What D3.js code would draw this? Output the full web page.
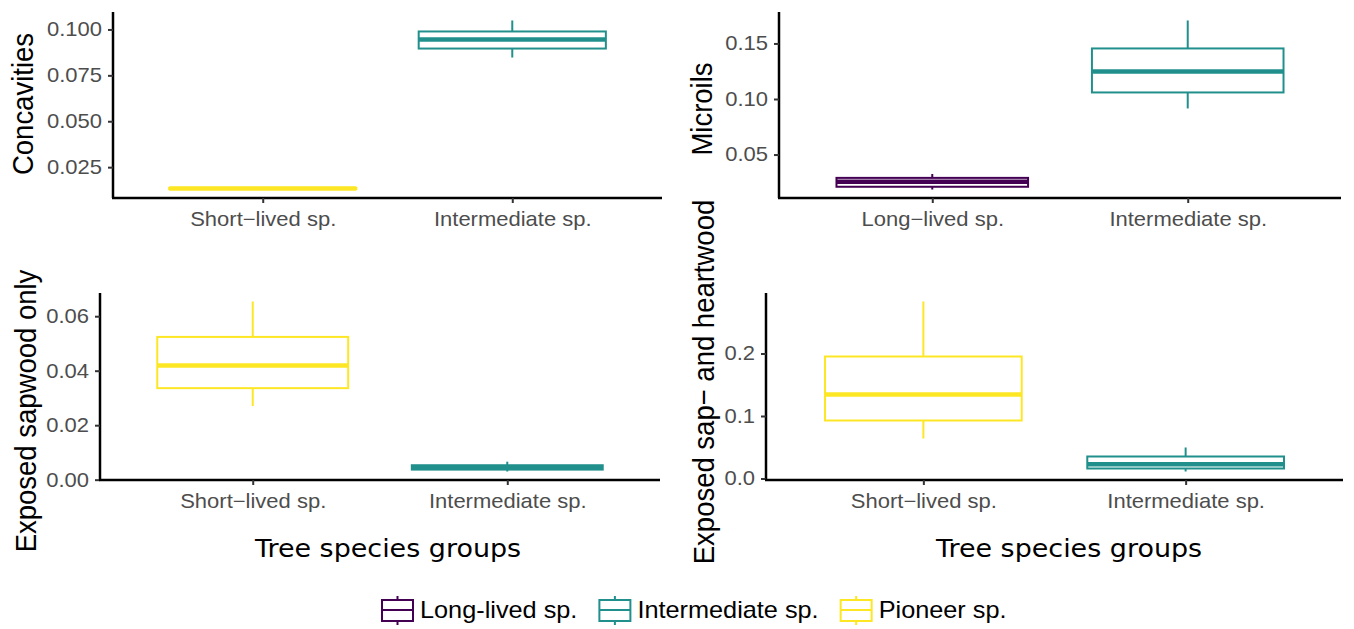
<!DOCTYPE html>
<html>
<head>
<meta charset="utf-8">
<script src="https://cdn.jsdelivr.net/npm/d3@7"></script>
<style>
  body { margin: 0; background: #fff; }
  svg { display: block; }
  .tick text { font-family: "Liberation Sans", Arial, sans-serif; font-size: 20px; fill: #4d4d4d; }
  .tick line { stroke: #333; stroke-width: 2; }
  .domain { stroke: #000; stroke-width: 2.5; }
  .y-title { font-family: "Liberation Sans", Arial, sans-serif; font-size: 27.5px; fill: #000; }
  .x-title { font-family: "DejaVu Sans", sans-serif; font-size: 24.5px; fill: #000; }
  .legend text { font-family: "Liberation Sans", Arial, sans-serif; font-size: 23px; fill: #000; }
</style>
</head>
<body>
<div id="chart"></div>
<script>
// Groups and colours (viridis)
const groupNames = ["Long-lived sp.", "Intermediate sp.", "Pioneer sp."];
const groupColors = ["#440154", "#21908C", "#FDE725"];

// Panel y titles
const panelTitles = ["Concavities", "Microils", "Exposed sapwood only", "Exposed sap\u2212 and heartwood"];
const xTitle = "Tree species groups";

// Categories on each x axis
const concCats = ["Short\u2212lived sp.", "Intermediate sp."];
const micCats = ["Long\u2212lived sp.", "Intermediate sp."];
const sapCats = ["Short\u2212lived sp.", "Intermediate sp."];
const heartCats = ["Short\u2212lived sp.", "Intermediate sp."];

// Colour group of each box
const concGroups = ["Pioneer sp.", "Intermediate sp."];
const micGroups = ["Long-lived sp.", "Intermediate sp."];
const sapGroups = ["Pioneer sp.", "Intermediate sp."];
const heartGroups = ["Pioneer sp.", "Intermediate sp."];

// Box statistics: [lower whisker, Q1, median, Q3, upper whisker]
const concStats = [[0.0128, 0.0131, 0.0134, 0.0137, 0.0140], [0.0847, 0.0896, 0.0945, 0.0989, 0.1049]];
const micStats = [[0.0185, 0.0210, 0.0255, 0.0290, 0.0325], [0.0915, 0.1059, 0.1248, 0.1455, 0.1707]];
const sapStats = [[0.0270, 0.0336, 0.0419, 0.0524, 0.0654], [0.0030, 0.0037, 0.0045, 0.0053, 0.0066]];
const heartStats = [[0.0640, 0.0928, 0.1344, 0.1952, 0.2832], [0.0112, 0.0160, 0.0230, 0.0352, 0.0496]];

// Tick values
const concTicks = [0.025, 0.05, 0.075, 0.1];
const micTicks = [0.05, 0.10, 0.15];
const sapTicks = [0, 0.02, 0.04, 0.06];
const heartTicks = [0, 0.1, 0.2];

// the original picture is stretched a bit horizontally
const k = 1.1;

const panels = [
    {cats: concCats, groups: concGroups, stats: concStats, ticks: concTicks, fmt: ".3f",
     title: panelTitles[0], left: 113, right: 662, top: 12, bottom: 198, tx: 33, ty: 104},
    {cats: micCats, groups: micGroups, stats: micStats, ticks: micTicks, fmt: ".2f",
     title: panelTitles[1], left: 779, right: 1341, top: 12, bottom: 198, tx: 712, ty: 109},
    {cats: sapCats, groups: sapGroups, stats: sapStats, ticks: sapTicks, fmt: ".2f",
     title: panelTitles[2], left: 100, right: 660, top: 293, bottom: 480, tx: 36, ty: 411, xt: 388},
    {cats: heartCats, groups: heartGroups, stats: heartStats, ticks: heartTicks, fmt: ".1f",
     title: panelTitles[3], left: 766, right: 1343, top: 293, bottom: 480, tx: 714, ty: 382, xt: 1069}
];

const color = d3.scaleOrdinal().domain(groupNames).range(groupColors);

const svg = d3.select("#chart")
    .append("svg")
    .attr("width", 1354)
    .attr("height", 629);

// move x/y of a text into a transform so it can be stretched
function stretch(sel) {
    sel.each(function() {
        const t = d3.select(this);
        const x = +t.attr("x") || 0;
        const y = +t.attr("y") || 0;
        t.attr("x", 0).attr("y", 0)
            .attr("transform", `translate(${x},${y}) scale(${k},1)`);
    });
}

panels.forEach(p => {
    const x = d3.scalePoint()
        .domain(p.cats)
        .range([p.left, p.right])
        .padding(0.6);

    // ggplot style 5% expansion
    const lo = d3.min(p.stats, d => d[0]);
    const hi = d3.max(p.stats, d => d[4]);
    const pad = (hi - lo) * 0.05;
    const y = d3.scaleLinear()
        .domain([lo - pad, hi + pad])
        .range([p.bottom, p.top]);

    const g = svg.append("g");

    // Boxes
    const half = x.step() * 0.375;
    p.stats.forEach((s, i) => {
        const cx = x(p.cats[i]);
        const col = color(p.groups[i]);
        const box = g.append("g").attr("fill", "none").attr("stroke", col);

        box.append("line")
            .attr("x1", cx).attr("x2", cx)
            .attr("y1", y(s[4])).attr("y2", y(s[3]))
            .attr("stroke-width", 2);
        box.append("line")
            .attr("x1", cx).attr("x2", cx)
            .attr("y1", y(s[1])).attr("y2", y(s[0]))
            .attr("stroke-width", 2);
        box.append("rect")
            .attr("x", cx - half)
            .attr("width", half * 2)
            .attr("y", y(s[3]))
            .attr("height", y(s[1]) - y(s[3]))
            .attr("fill", "#fff")
            .attr("stroke-width", 2);
        box.append("line")
            .attr("x1", cx - half).attr("x2", cx + half)
            .attr("y1", y(s[2])).attr("y2", y(s[2]))
            .attr("stroke-width", 4.5);
    });

    // Axes
    const yAxis = g.append("g")
        .attr("transform", `translate(${p.left},0)`)
        .call(d3.axisLeft(y).tickValues(p.ticks).tickFormat(d3.format(p.fmt))
            .tickSize(5).tickSizeOuter(0).tickPadding(6));
    yAxis.select(".domain").attr("d", `M0,${p.top}V${p.bottom}`);
    stretch(yAxis.selectAll(".tick text"));

    const xAxis = g.append("g")
        .attr("transform", `translate(0,${p.bottom})`)
        .call(d3.axisBottom(x).tickSize(5).tickSizeOuter(0).tickPadding(9));
    xAxis.select(".domain").attr("d", `M${p.left - 1},0H${p.right}`);
    stretch(xAxis.selectAll(".tick text"));

    // Titles
    g.append("text")
        .attr("class", "y-title")
        .attr("text-anchor", "middle")
        .attr("transform", `translate(${p.tx},${p.ty}) scale(${k},1) rotate(-90)`)
        .text(p.title);

    if (p.xt) {
        g.append("text")
            .attr("class", "x-title")
            .attr("text-anchor", "middle")
            .attr("transform", `translate(${p.xt},557) scale(${k},1)`)
            .text(xTitle);
    }
});

// Legend
const legend = svg.append("g").attr("class", "legend");
const keyW = 33, keyGap = 6, itemGap = 21, legendY = 610;
let cursor = 0;
groupNames.forEach(name => {
    const item = legend.append("g");
    const col = color(name);
    item.append("line")
        .attr("x1", keyW / 2).attr("x2", keyW / 2)
        .attr("y1", legendY - 14).attr("y2", legendY + 15)
        .attr("stroke", col).attr("stroke-width", 2);
    item.append("rect")
        .attr("x", 1).attr("width", keyW - 2)
        .attr("y", legendY - 10).attr("height", 21)
        .attr("fill", "#fff").attr("stroke", col).attr("stroke-width", 2);
    item.append("line")
        .attr("x1", 1).attr("x2", keyW - 1)
        .attr("y1", legendY).attr("y2", legendY)
        .attr("stroke", col).attr("stroke-width", 2);
    const label = item.append("text")
        .attr("transform", `translate(${keyW + keyGap},${legendY + 8}) scale(${k},1)`)
        .text(name);
    const w = keyW + keyGap + label.node().getComputedTextLength() * k;
    item.attr("transform", `translate(${cursor},0)`);
    cursor += w + itemGap;
});
legend.attr("transform", "translate(381,0)");
</script>
</body>
</html>
